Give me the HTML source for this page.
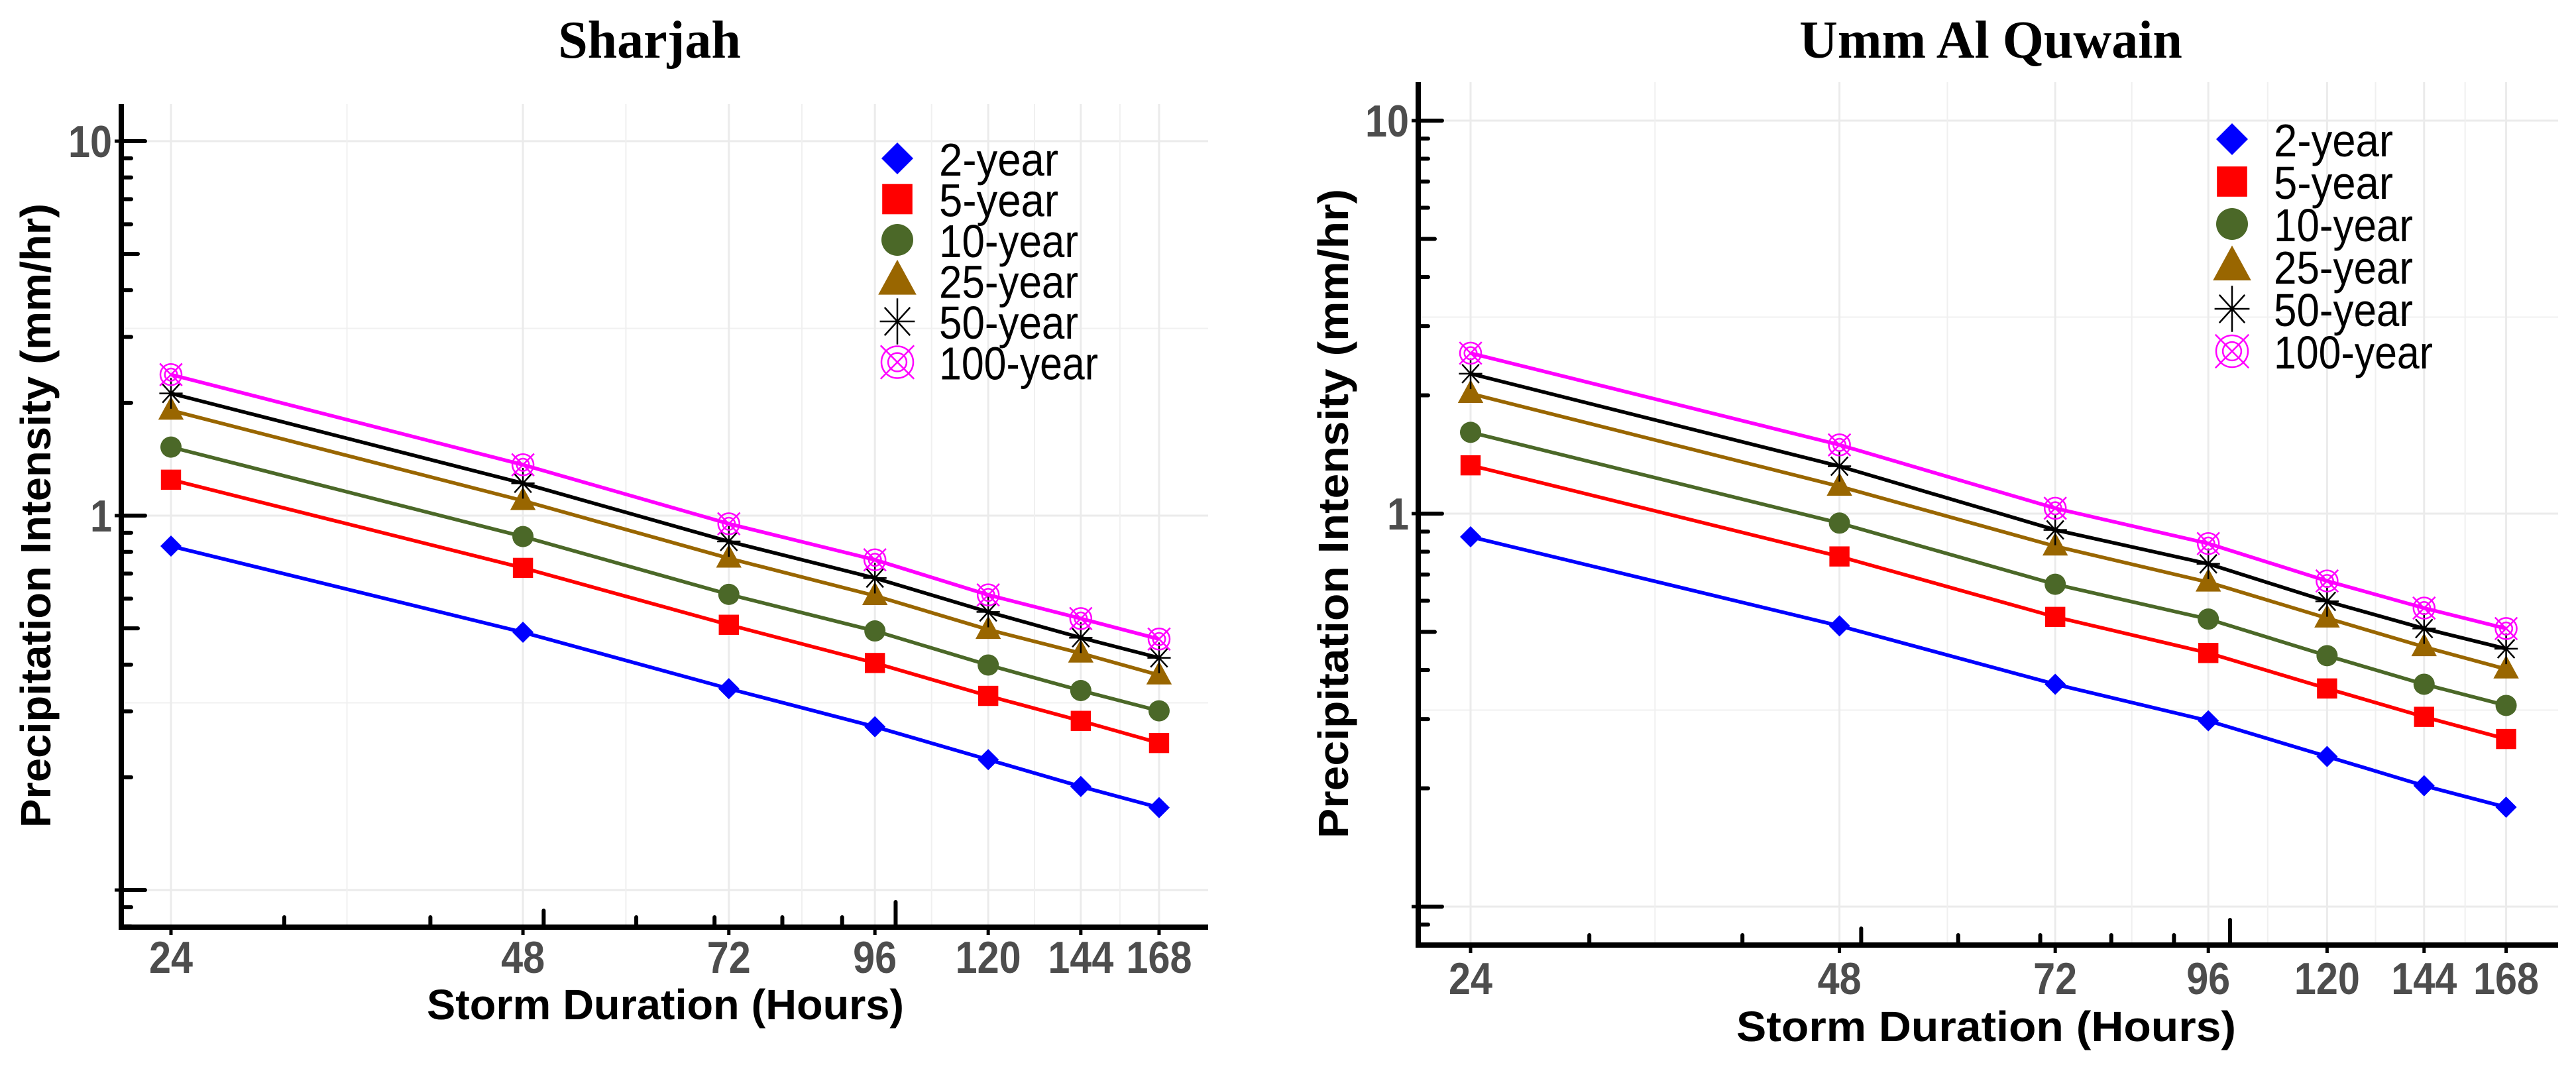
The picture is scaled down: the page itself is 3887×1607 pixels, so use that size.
<!DOCTYPE html>
<html><head><meta charset="utf-8"><style>
html,body{margin:0;padding:0;background:#fff;}
svg{display:block;}
</style></head><body>
<svg id="chart" xmlns="http://www.w3.org/2000/svg" width="3887" height="1607" viewBox="0 0 3887 1607">
<rect x="0" y="0" width="3887" height="1607" fill="#fff"/>
</svg>
<script>
const durations = [24, 48, 72, 96, 120, 144, 168];
const xTickLabels = ["24", "48", "72", "96", "120", "144", "168"];
const yTickValues = [10, 1, 0.1];
const yTickLabels = ["10", "1", ""];
const seriesNames = ["2-year", "5-year", "10-year", "25-year", "50-year", "100-year"];
const seriesColors = ["#0000ff", "#ff0000", "#4b6828", "#996600", "#000000", "#ff00ff"];
const seriesShapes = ["diamond", "square", "circle", "triangle", "asterisk", "circlecross"];
const sharjah2 = [0.829, 0.488, 0.345, 0.273, 0.223, 0.189, 0.166];
const sharjah5 = [1.247, 0.725, 0.511, 0.404, 0.330, 0.283, 0.247];
const sharjah10 = [1.524, 0.879, 0.616, 0.492, 0.399, 0.341, 0.301];
const sharjah25 = [1.91, 1.096, 0.769, 0.611, 0.496, 0.429, 0.375];
const sharjah50 = [2.12, 1.22, 0.853, 0.681, 0.553, 0.472, 0.417];
const sharjah100 = [2.38, 1.367, 0.951, 0.762, 0.614, 0.531, 0.468];
const uaq2 = [0.873, 0.518, 0.368, 0.297, 0.241, 0.203, 0.179];
const uaq5 = [1.327, 0.778, 0.546, 0.442, 0.359, 0.304, 0.267];
const uaq10 = [1.61, 0.946, 0.661, 0.539, 0.435, 0.368, 0.325];
const uaq25 = [2.02, 1.173, 0.826, 0.669, 0.542, 0.458, 0.402];
const uaq50 = [2.27, 1.32, 0.909, 0.745, 0.598, 0.510, 0.453];
const uaq100 = [2.56, 1.496, 1.032, 0.839, 0.674, 0.575, 0.510];

const NS = "http://www.w3.org/2000/svg";
const svg = document.getElementById("chart");
function mk(parent, tag, attrs) {
  const e = document.createElementNS(NS, tag);
  for (const k in attrs) e.setAttribute(k, attrs[k]);
  parent.appendChild(e);
  return e;
}

function drawMarker(g, shape, color, cx, cy, s) {
  let m;
  if (shape === "diamond") {
    m = mk(g, "polygon", {points: `${cx},${cy-s} ${cx+s},${cy} ${cx},${cy+s} ${cx-s},${cy}`, fill: color});
  } else if (shape === "square") {
    m = mk(g, "rect", {x: cx - s*0.95, y: cy - s*0.95, width: s*1.9, height: s*1.9, fill: color});
  } else if (shape === "circle") {
    m = mk(g, "circle", {cx: cx, cy: cy, r: s, fill: color});
  } else if (shape === "triangle") {
    const h = s * 2.2;
    m = mk(g, "polygon", {points: `${cx},${cy - h*0.6} ${cx + s*1.2},${cy + h*0.4} ${cx - s*1.2},${cy + h*0.4}`, fill: color});
  } else if (shape === "asterisk") {
    m = mk(g, "g", {stroke: color, "stroke-width": 2.5, fill: "none"});
    const a = s*1.1, b = s*1.45, d = s*0.8;
    mk(m, "line", {x1: cx-a, y1: cy, x2: cx+a, y2: cy});
    mk(m, "line", {x1: cx, y1: cy-b, x2: cx, y2: cy+b});
    mk(m, "line", {x1: cx-d, y1: cy-d*1.1, x2: cx+d, y2: cy+d*1.1});
    mk(m, "line", {x1: cx-d, y1: cy+d*1.1, x2: cx+d, y2: cy-d*1.1});
  } else {
    m = mk(g, "g", {stroke: color, "stroke-width": 2.5, fill: "none"});
    mk(m, "circle", {cx: cx, cy: cy, r: s});
    mk(m, "circle", {cx: cx, cy: cy, r: s*0.58});
    const d = s*1.05;
    mk(m, "line", {x1: cx-d, y1: cy-d, x2: cx+d, y2: cy+d});
    mk(m, "line", {x1: cx-d, y1: cy+d, x2: cx+d, y2: cy-d});
  }
  return m;
}

function panel(cfg) {
  const g = mk(svg, "g", {});
  
  
  const L = cfg.left, R = cfg.right, T = cfg.top, B = cfg.bottom;
  const xS = v => cfg.x24 + Math.log(v / 24) * cfg.pxLn;
  const yS = v => cfg.y1 - Math.log10(v) * cfg.dec;
  const xMin = 24 * Math.exp((L - cfg.x24) / cfg.pxLn), xMax = 24 * Math.exp((R - cfg.x24) / cfg.pxLn);
  const yMax = Math.pow(10, (cfg.y1 - T) / cfg.dec), yMin = Math.pow(10, (cfg.y1 - B) / cfg.dec);
  const grid = mk(g, "g", {});
  
  
  [Math.sqrt(10), Math.sqrt(0.1)].forEach(v => mk(grid, "line", {x1: L, x2: R, y1: yS(v), y2: yS(v), stroke: "#f0f0f0", "stroke-width": 2}));
  yTickValues.forEach(v => mk(grid, "line", {x1: L, x2: R, y1: yS(v), y2: yS(v), stroke: "#ebebeb", "stroke-width": 3}));
  for (let i = 0; i < durations.length - 1; i++) {
    const v = Math.sqrt(durations[i] * durations[i+1]);
    mk(grid, "line", {x1: xS(v), x2: xS(v), y1: T, y2: B, stroke: "#f0f0f0", "stroke-width": 2});
  }
  durations.forEach(v => mk(grid, "line", {x1: xS(v), x2: xS(v), y1: T, y2: B, stroke: "#ebebeb", "stroke-width": 3}));
  cfg.data.forEach((arr, si) => {
    const sg = mk(g, "g", {});
    
    
    const pts = arr.map((v, i) => `${xS(durations[i])},${yS(v)}`).join(" ");
    const line = mk(sg, "polyline", {points: pts, fill: "none", stroke: seriesColors[si], "stroke-width": 5.5});
    
    
    arr.forEach((v, i) => {
      const m = drawMarker(sg, seriesShapes[si], seriesColors[si], xS(durations[i]), yS(v), 16);
      
      
    });
  });
  const ticks = mk(g, "g", {stroke: "#000", "stroke-linecap": "round"});
  
  
  for (let e = -2; e <= 1; e++) for (let k = 1; k <= 9; k++) {
    const v = k * Math.pow(10, e);
    if (v < yMin || v > yMax) continue;
    const len = k === 1 ? 36 : (k === 5 ? 25 : 15);
    mk(ticks, "line", {x1: L, x2: L + len, y1: yS(v), y2: yS(v), "stroke-width": 6});
  }
  for (let e = 1; e <= 2; e++) for (let k = 1; k <= 9; k++) {
    const v = k * Math.pow(10, e);
    if (v < xMin || v > xMax) continue;
    const len = k === 1 ? 38 : (k === 5 ? 25 : 15);
    mk(ticks, "line", {x1: xS(v), x2: xS(v), y1: B, y2: B - len, "stroke-width": 6});
  }
  const ax = mk(g, "g", {});
  
  
  mk(ax, "line", {x1: L, x2: L, y1: T, y2: B + 4, stroke: "#000", "stroke-width": 8});
  mk(ax, "line", {x1: L - 4, x2: R, y1: B, y2: B, stroke: "#000", "stroke-width": 8});
  yTickValues.forEach((v, i) => {
    mk(ax, "line", {x1: L - 10, x2: L, y1: yS(v), y2: yS(v), stroke: "#000", "stroke-width": 5});
    if (yTickLabels[i]) {
      const t = mk(ax, "text", {x: L - 14, y: yS(v) + 24, "text-anchor": "end", "font-family": "Liberation Sans, sans-serif", "font-weight": "bold", "font-size": 68, textLength: yTickLabels[i].length * 33, lengthAdjust: "spacingAndGlyphs", fill: "#4d4d4d"});
      t.textContent = yTickLabels[i];
      
      
    }
  });
  durations.forEach((v, i) => {
    mk(ax, "line", {x1: xS(v), x2: xS(v), y1: B, y2: B + 12, stroke: "#000", "stroke-width": 5});
    const t = mk(ax, "text", {x: xS(v), y: cfg.xLabY, "text-anchor": "middle", "font-family": "Liberation Sans, sans-serif", "font-weight": "bold", "font-size": 68, textLength: xTickLabels[i].length * 33, lengthAdjust: "spacingAndGlyphs", fill: "#4d4d4d"});
    t.textContent = xTickLabels[i];
    
    
  });
  const tt = mk(g, "text", {x: cfg.titleX, y: 87, "text-anchor": "middle", "font-family": "Liberation Serif, serif", "font-weight": "bold", "font-size": 80, fill: "#000"});
  tt.textContent = cfg.title;
  
  
  const xt = mk(g, "text", {x: cfg.xTitleX, y: cfg.xTitleY, "text-anchor": "middle", "font-family": "Liberation Sans, sans-serif", "font-weight": "bold", "font-size": 64, textLength: cfg.xTitleW, lengthAdjust: "spacingAndGlyphs", fill: "#000"});
  xt.textContent = "Storm Duration (Hours)";
  
  
  const yt = mk(g, "text", {x: 0, y: 0, transform: `translate(${cfg.yTitleX},${cfg.yTitleY}) rotate(-90)`, "text-anchor": "middle", "font-family": "Liberation Sans, sans-serif", "font-weight": "bold", "font-size": 64, textLength: cfg.yTitleW, lengthAdjust: "spacingAndGlyphs", fill: "#000"});
  yt.textContent = "Precipitation Intensity (mm/hr)";
  
  
  const lg = mk(g, "g", {});
  
  
  seriesNames.forEach((n, i) => {
    const cy = cfg.legY + i * cfg.legDy;
    const e = mk(lg, "g", {});
    
    
    drawMarker(e, seriesShapes[i], seriesColors[i], cfg.legX, cy, 24);
    const t = mk(e, "text", {x: cfg.legX + 63, y: cy + 26, "font-family": "Liberation Sans, sans-serif", "font-size": 70, textLength: n.length * 30, lengthAdjust: "spacingAndGlyphs", fill: "#000"});
    t.textContent = n;
  });
}

panel({name: "sharjah", title: "Sharjah", left: 183, right: 1823, top: 157, bottom: 1399,
  x24: 258, pxLn: 766.2, y1: 778, dec: 565, xLabY: 1468, titleX: 980,
  xTitleX: 1004, xTitleY: 1538, xTitleW: 720, yTitleX: 76, yTitleY: 778, yTitleW: 942,
  legX: 1354, legY: 239, legDy: 61.5,
  data: [sharjah2, sharjah5, sharjah10, sharjah25, sharjah50, sharjah100]});
panel({name: "umm-al-quwain", title: "Umm Al Quwain", left: 2140, right: 3860, top: 124, bottom: 1426,
  x24: 2219, pxLn: 803, y1: 775, dec: 593, xLabY: 1500, titleX: 3004,
  xTitleX: 2997, xTitleY: 1571, xTitleW: 754, yTitleX: 2034, yTitleY: 775, yTitleW: 980,
  legX: 3368, legY: 210, legDy: 64,
  data: [uaq2, uaq5, uaq10, uaq25, uaq50, uaq100]});
</script>
</body></html>
